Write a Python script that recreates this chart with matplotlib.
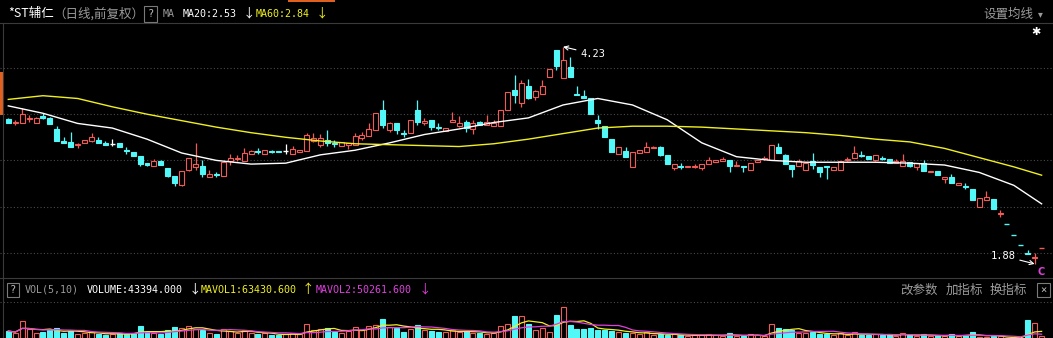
import numpy as np
import pandas as pd
import matplotlib
matplotlib.use('Agg')
import matplotlib.pyplot as plt
from matplotlib.patches import Rectangle
from matplotlib.lines import Line2D

# 日K线数据（前复权）
opens = [3.45, 3.41, 3.40, 3.45, 3.40, 3.48, 3.46, 3.34, 3.21, 3.20,
         3.17, 3.19, 3.21, 3.22, 3.19, 3.18, 3.19, 3.11, 3.09, 3.05,
         2.97, 2.94, 2.99, 2.92, 2.83, 2.73, 2.90, 2.93, 2.94, 2.82,
         2.85, 2.83, 2.99, 3.02, 2.99, 3.07, 3.10, 3.07, 3.10, 3.10,
         3.10, 3.07, 3.09, 3.10, 3.21, 3.17, 3.22, 3.19, 3.16, 3.17,
         3.17, 3.24, 3.26, 3.33, 3.55, 3.33, 3.41, 3.30, 3.30, 3.55,
         3.40, 3.44, 3.36, 3.32, 3.42, 3.37, 3.42, 3.34, 3.42, 3.38,
         3.37, 3.37, 3.55, 3.76, 3.62, 3.81, 3.69, 3.72, 3.90, 4.19,
         3.89, 4.01, 3.72, 3.70, 3.68, 3.44, 3.37, 3.23, 3.07, 3.10,
         2.93, 3.08, 3.09, 3.13, 3.14, 3.06, 2.92, 2.94, 2.93, 2.93,
         2.92, 2.96, 2.98, 2.99, 3.00, 2.94, 2.94, 2.90, 2.98, 3.02,
         3.00, 3.15, 3.06, 2.95, 2.94, 2.90, 2.99, 2.93, 2.94, 2.90,
         2.90, 3.00, 3.03, 3.06, 3.05, 3.00, 3.03, 3.02, 2.97, 2.94,
         2.98, 2.93, 2.97, 2.87, 2.89, 2.80, 2.82, 2.73, 2.72, 2.69,
         2.50, 2.57, 2.58, 2.42, 2.31, 2.19, 2.08, 2.00, 1.94, 2.05]
closes = [3.41, 3.42, 3.50, 3.46, 3.46, 3.46, 3.39, 3.21, 3.19, 3.15,
          3.18, 3.22, 3.25, 3.19, 3.17, 3.18, 3.15, 3.10, 3.05, 2.96,
          2.95, 2.99, 2.95, 2.83, 2.75, 2.89, 3.03, 2.96, 2.85, 2.85,
          2.84, 2.98, 3.03, 3.03, 3.08, 3.10, 3.09, 3.11, 3.09, 3.09,
          3.10, 3.12, 3.11, 3.28, 3.24, 3.24, 3.19, 3.18, 3.20, 3.19,
          3.26, 3.27, 3.34, 3.51, 3.38, 3.40, 3.33, 3.29, 3.44, 3.42,
          3.43, 3.36, 3.35, 3.35, 3.44, 3.40, 3.35, 3.40, 3.38, 3.42,
          3.41, 3.55, 3.74, 3.71, 3.84, 3.68, 3.75, 3.81, 3.99, 4.02,
          4.09, 3.90, 3.71, 3.68, 3.50, 3.41, 3.25, 3.09, 3.14, 3.04,
          3.09, 3.11, 3.14, 3.15, 3.06, 2.96, 2.96, 2.93, 2.94, 2.94,
          2.96, 3.00, 3.00, 3.02, 2.94, 2.95, 2.93, 2.97, 3.00, 3.03,
          3.17, 3.08, 2.96, 2.91, 2.99, 2.97, 2.95, 2.87, 2.93, 2.93,
          2.99, 3.01, 3.08, 3.05, 3.01, 3.06, 3.02, 2.97, 2.99, 2.99,
          2.94, 2.97, 2.89, 2.89, 2.84, 2.82, 2.75, 2.76, 2.71, 2.57,
          2.59, 2.60, 2.47, 2.43, 2.31, 2.19, 2.08, 1.99, 1.95, 2.05]
highs = [3.46, 3.44, 3.57, 3.49, 3.47, 3.51, 3.47, 3.37, 3.25, 3.31,
         3.19, 3.22, 3.30, 3.25, 3.21, 3.23, 3.19, 3.14, 3.09, 3.05,
         2.97, 3.01, 3.00, 2.92, 2.83, 2.89, 3.03, 3.19, 3.00, 2.90,
         2.87, 2.98, 3.07, 3.06, 3.13, 3.11, 3.13, 3.11, 3.11, 3.10,
         3.18, 3.16, 3.11, 3.30, 3.30, 3.29, 3.33, 3.22, 3.20, 3.19,
         3.30, 3.31, 3.41, 3.51, 3.65, 3.42, 3.41, 3.33, 3.44, 3.65,
         3.46, 3.44, 3.40, 3.35, 3.52, 3.48, 3.44, 3.44, 3.43, 3.49,
         3.44, 3.55, 3.74, 3.92, 3.87, 3.88, 3.76, 3.87, 3.99, 4.19,
         4.23, 4.12, 3.80, 3.76, 3.68, 3.49, 3.37, 3.23, 3.14, 3.15,
         3.09, 3.11, 3.20, 3.16, 3.16, 3.06, 2.96, 2.97, 2.94, 2.96,
         2.96, 3.04, 3.00, 3.04, 3.00, 2.99, 2.94, 2.97, 3.00, 3.05,
         3.17, 3.19, 3.07, 2.95, 3.01, 2.97, 3.08, 2.93, 2.94, 2.93,
         2.99, 3.04, 3.16, 3.10, 3.05, 3.06, 3.05, 3.02, 3.01, 3.07,
         2.98, 2.97, 3.00, 2.89, 2.89, 2.82, 2.85, 2.76, 2.76, 2.69,
         2.59, 2.67, 2.58, 2.46, 2.31, 2.19, 2.08, 2.03, 2.00, 2.05]
lows = [3.40, 3.38, 3.40, 3.42, 3.40, 3.45, 3.39, 3.21, 3.19, 3.15,
        3.13, 3.19, 3.20, 3.19, 3.17, 3.16, 3.15, 3.07, 3.05, 2.94,
        2.94, 2.94, 2.95, 2.82, 2.72, 2.72, 2.89, 2.90, 2.82, 2.82,
        2.82, 2.83, 2.95, 2.99, 2.99, 3.07, 3.07, 3.07, 3.08, 3.09,
        3.07, 3.07, 3.09, 3.10, 3.20, 3.15, 3.16, 3.15, 3.16, 3.12,
        3.17, 3.22, 3.26, 3.33, 3.35, 3.31, 3.29, 3.25, 3.30, 3.38,
        3.38, 3.33, 3.33, 3.32, 3.42, 3.36, 3.31, 3.29, 3.38, 3.38,
        3.37, 3.37, 3.54, 3.62, 3.58, 3.66, 3.65, 3.72, 3.90, 3.98,
        3.89, 3.90, 3.71, 3.67, 3.50, 3.34, 3.25, 3.09, 3.07, 3.04,
        2.93, 3.08, 3.09, 3.13, 3.05, 2.96, 2.90, 2.91, 2.93, 2.92,
        2.90, 2.96, 2.98, 2.99, 2.87, 2.94, 2.87, 2.90, 2.98, 3.00,
        3.00, 3.08, 2.96, 2.82, 2.94, 2.90, 2.91, 2.82, 2.80, 2.90,
        2.90, 2.99, 3.03, 3.04, 3.01, 2.99, 3.00, 2.97, 2.97, 2.94,
        2.93, 2.90, 2.89, 2.87, 2.84, 2.76, 2.75, 2.73, 2.69, 2.57,
        2.50, 2.57, 2.47, 2.39, 2.31, 2.19, 2.08, 1.99, 1.88, 2.05]
volumes = [65000, 55000, 112000, 75000, 56000, 60000, 68000, 80000, 55000, 65000,
           52000, 55000, 60000, 50000, 45000, 50000, 55000, 50000, 58000, 88000,
           60000, 55000, 50000, 70000, 85000, 80000, 90000, 75000, 70000, 55000,
           50000, 75000, 65000, 55000, 70000, 55000, 50000, 55000, 45000, 45000,
           50000, 55000, 50000, 100000, 70000, 75000, 80000, 60000, 55000, 65000,
           85000, 70000, 90000, 95000, 121000, 85000, 80000, 60000, 75000, 95000,
           70000, 65000, 60000, 60000, 70000, 60000, 65000, 55000, 55000, 50000,
           55000, 90000, 100000, 135000, 135000, 100000, 70000, 80000, 60000, 140000,
           177000, 95000, 75000, 75000, 80000, 70000, 70000, 65000, 60000, 55000,
           55000, 50000, 60000, 45000, 50000, 45000, 50000, 45000, 40000, 45000,
           45000, 50000, 45000, 40000, 55000, 40000, 40000, 50000, 45000, 40000,
           100000, 80000, 75000, 70000, 55000, 55000, 60000, 50000, 50000, 45000,
           55000, 45000, 60000, 45000, 45000, 50000, 45000, 50000, 40000, 55000,
           45000, 40000, 50000, 40000, 45000, 40000, 50000, 40000, 45000, 60000,
           38000, 35000, 42000, 40000, 30463, 25000, 28000, 118000, 102759, 43394]

# 均线读数（每5根取一点）
ma_idx = [0, 5, 10, 15, 20, 25, 30, 35, 40, 45, 50, 55, 60, 65, 70,
          75, 80, 85, 90, 95, 100, 105, 110, 115, 120, 125, 130, 135, 140, 145, 149]
ma20 = [3.59, 3.51, 3.40, 3.35, 3.23, 3.08, 3.00, 2.96, 2.97, 3.06, 3.11, 3.19, 3.28, 3.34, 3.41,
        3.46, 3.60, 3.67, 3.60, 3.44, 3.19, 3.04, 3.00, 2.98, 2.98, 2.98, 2.97, 2.95, 2.87, 2.73, 2.53]
ma60 = [3.66, 3.70, 3.67, 3.58, 3.50, 3.43, 3.36, 3.30, 3.25, 3.21, 3.18, 3.17, 3.16, 3.15, 3.18,
        3.23, 3.29, 3.35, 3.37, 3.37, 3.36, 3.34, 3.32, 3.30, 3.27, 3.23, 3.20, 3.13, 3.03, 2.93, 2.84]

W, H = 1053, 338
STEP, X0 = 6.935, 8.3
RED = '#f25a58'
CYAN = '#52f8f8'
YEL = '#f0f020'
MAG = '#e040e0'
GRAY = '#9a9a9a'
CJK = ['Noto Sans CJK SC', 'DejaVu Sans']
MONO = ['DejaVu Sans Mono', 'Noto Sans CJK SC']

o = np.array(opens); c = np.array(closes)
h = np.array(highs); l = np.array(lows)
v = np.array(volumes, dtype=float)
n = len(o)
idx = np.arange(n)

# 颜色：涨红跌青，平盘白（一字板按昨收判断）
colors = []
for i in range(n):
    if c[i] > o[i]:
        colors.append(RED)
    elif c[i] < o[i]:
        colors.append(CYAN)
    elif h[i] == l[i] and i > 0:
        colors.append(RED if c[i] > c[i - 1] else CYAN)
    else:
        colors.append('white')

fig = plt.figure(figsize=(W / 100, H / 100), dpi=100, facecolor='black')


def fx(x):
    return x / W


def fy(y):
    return 1 - y / H


# 主图
ax = fig.add_axes([0, fy(276), 1, (276 - 24) / H])
ax.set_facecolor('black')
ax.set_xlim(-X0 / STEP, (W - X0) / STEP)
ax.set_ylim(1.749, 4.476)
ax.axis('off')

for g in [2.0, 2.5, 3.0, 3.5, 4.0]:
    ax.axhline(g, color='#4a4a4a', ls=(0, (1, 2)), lw=0.8, zorder=1)

bw = 0.72
for i in range(n):
    col = colors[i]
    ax.vlines(i, l[i], h[i], color=col, lw=0.9, zorder=2)
    lo, hi = min(o[i], c[i]), max(o[i], c[i])
    if hi - lo < 0.005:
        ax.hlines(lo, i - bw / 2, i + bw / 2, color=col, lw=1.0, zorder=3)
    elif col == RED:
        ax.add_patch(Rectangle((i - bw / 2, lo), bw, hi - lo, facecolor='black',
                               edgecolor=col, lw=0.8, zorder=3))
    else:
        ax.add_patch(Rectangle((i - bw / 2, lo), bw, hi - lo, facecolor=col,
                               edgecolor=col, lw=0.8, zorder=3))

ax.plot(ma_idx, ma20, color='white', lw=1.0, zorder=4)
ax.plot(ma_idx, ma60, color=YEL, lw=1.0, zorder=4)

# 最高最低标注
imax = int(np.argmax(h))
imin = int(np.argmin(l))
ax.annotate(f'{h[imax]:.2f}', xy=(imax, h[imax]), xytext=(17, -7), textcoords='offset pixels',
            color='white', fontsize=7.5, family=MONO, ha='left', va='center',
            arrowprops=dict(arrowstyle='->', color='white', lw=0.8, shrinkA=1, shrinkB=0))
ax.annotate(f'{l[imin]:.2f}', xy=(imin, l[imin]), xytext=(-19, 8), textcoords='offset pixels',
            color='white', fontsize=7.5, family=MONO, ha='right', va='center',
            arrowprops=dict(arrowstyle='->', color='white', lw=0.8, shrinkA=1, shrinkB=0))
ax.text(n - 1, 1.79, 'C', color=MAG, fontsize=7, fontweight='bold', ha='center', va='center')

# 成交量副图
axv = fig.add_axes([0, fy(345), 1, 43 / H])
axv.set_facecolor('none')
axv.set_xlim(-X0 / STEP, (W - X0) / STEP)
axv.set_ylim(0, 200000)
axv.axis('off')
for i in range(n):
    col = colors[i] if colors[i] != 'white' else RED
    if col == RED:
        axv.add_patch(Rectangle((i - bw / 2, 0), bw, v[i], facecolor='black',
                                edgecolor=RED, lw=0.8, zorder=2))
    else:
        axv.add_patch(Rectangle((i - bw / 2, 0), bw, v[i], facecolor=CYAN,
                                edgecolor=CYAN, lw=0.8, zorder=2))
mavol1 = pd.Series(v).rolling(5, min_periods=1).mean()
mavol2 = pd.Series(v).rolling(10, min_periods=1).mean()
axv.plot(idx, mavol1, color=YEL, lw=0.9, zorder=3)
axv.plot(idx, mavol2, color=MAG, lw=0.9, zorder=3)

# 分隔线与边框
for y, ls, col in [(23, '-', '#3a3a3a'), (278, '-', '#3a3a3a'), (302, (0, (1, 2)), '#4a4a4a')]:
    fig.add_artist(Line2D([0, 1], [fy(y), fy(y)], color=col, lw=0.8, ls=ls))
fig.add_artist(Line2D([fx(3), fx(3)], [0, fy(23)], color='#3a3a3a', lw=0.8))
fig.add_artist(Rectangle((0, fy(115)), fx(3), (115 - 72) / H, color='#e06020', lw=0))
fig.add_artist(Rectangle((fx(288), fy(2)), fx(47), 2 / H, color='#e06020', lw=0))


def boxed(x0, y0, x1, y1, s):
    fig.add_artist(Rectangle((fx(x0), fy(y1)), fx(x1 - x0), (y1 - y0) / H,
                             facecolor='none', edgecolor='#7a7a7a', lw=0.8))
    fig.text(fx((x0 + x1) / 2), fy((y0 + y1) / 2), s, color='#bbbbbb', fontsize=7.5,
             family=MONO, ha='center', va='center')


def label(x, y, s, col, fam=MONO, size=7.2):
    fig.text(fx(x), fy(y), s, color=col, fontsize=size, family=fam, ha='left', va='center')


# 标题栏
label(8, 14, '*ST辅仁', 'white', CJK, 9)
label(53, 14, '（日线,前复权）', GRAY, CJK, 9)
boxed(144, 6, 157, 22, '?')
label(163, 14, 'MA', GRAY)
label(183, 14, f'MA20:{ma20[-1]:.2f}', 'white')
label(243, 14, '↓', 'white', CJK, 9)
label(256, 14, f'MA60:{ma60[-1]:.2f}', YEL)
label(316, 14, '↓', YEL, CJK, 9)
label(983, 14, '设置均线', GRAY, CJK, 9)
label(1038, 14, '▾', GRAY, CJK, 7)
label(1031, 32, '✱', 'white', ['DejaVu Sans'], 8)

# 副图标题
boxed(7, 283, 19, 297, '?')
label(25, 290, 'VOL(5,10)', GRAY)
label(87, 290, f'VOLUME:{v[-1]:.3f}', 'white')
label(189, 290, '↓', 'white', CJK, 9)
label(201, 290, f'MAVOL1:{mavol1.iloc[-1]:.3f}', YEL)
label(302, 290, '↑', YEL, CJK, 9)
label(316, 290, f'MAVOL2:{mavol2.iloc[-1]:.3f}', MAG)
label(419, 290, '↓', MAG, CJK, 9)
label(900, 290, '改参数', GRAY, CJK, 9)
label(946, 290, '加指标', GRAY, CJK, 9)
label(990, 290, '换指标', GRAY, CJK, 9)
boxed(1037, 283, 1050, 297, '×')

fig.savefig('out.png', dpi=100, facecolor='black')
